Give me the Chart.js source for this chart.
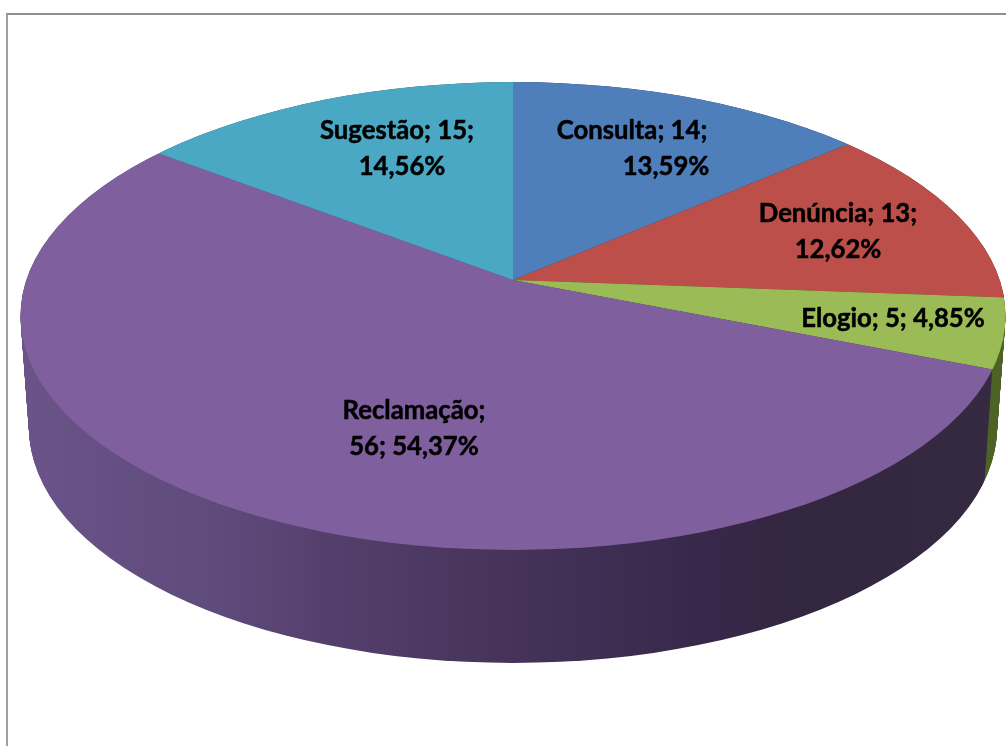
<!DOCTYPE html>
<html>
<head>
<meta charset="utf-8">
<title>Manifestações</title>
<script src="https://cdn.jsdelivr.net/npm/chart.js@4"></script>
<style>
    html, body { margin: 0; padding: 0; background: #fff; overflow: hidden; }
    #frame { position: absolute; left: 6px; top: 13px; right: 0; bottom: 0; border-top: 2px solid #8f8f8f; border-left: 2px solid #a0a0a0; }
    #box { position: absolute; left: 0; top: 0; width: 1006px; height: 746px; }
</style>
</head>
<body>
<div id="frame"></div>
<div id="box"><canvas id="pieChart" width="1006" height="746"></canvas></div>
<script>
// Data
const categories = ['Consulta', 'Denúncia', 'Elogio', 'Reclamação', 'Sugestão'];
const values = [14, 13, 5, 56, 15];
const percents = ['13,59%', '12,62%', '4,85%', '54,37%', '14,56%'];
const topColors = ['#4f7fbb', '#bd4f4b', '#9abb55', '#7f5f9e', '#4aa8c4'];

// Layout of the fake 3D pie (page pixels)
const apex = { x: 513, y: 280 };
const topEllipse = { x: 513, y: 316, rx: 492.5, ry: 234 };
const baseEllipse = { x: 513, y: 428, rx: 484, ry: 235 };
const squash = 0.465;
const reach = 640;

// Side wall shading, left to right
const wallStops = [
    [
        [0, '#2b3f5e'], [1, '#1f2f48']
    ],
    [
        [0, '#5e2725'], [1, '#4a1f1d']
    ],
    [
        [0, '#56702c'], [1, '#4d6326']
    ],
    [
        [0, '#6a5388'], [0.2, '#5e4a7b'], [0.3, '#55406d'], [0.5, '#45335a'], [0.7, '#37284a'], [0.8, '#33263f'], [1, '#352a42']
    ],
    [
        [0, '#2b6172'], [1, '#245262']
    ]
];

// Where each label goes: text lines, x of each line, y of each line
const labelLines = [
    { lines: (c, v, p) => [c + '; ' + v + ';', p], x: [632, 666], y: [131, 167] },
    { lines: (c, v, p) => [c + '; ' + v + ';', p], x: [838, 838], y: [214, 250] },
    { lines: (c, v, p) => [c + '; ' + v + '; ' + p], x: [893], y: [319] },
    { lines: (c, v, p) => [c + ';', v + '; ' + p], x: [414, 414], y: [411, 447] },
    { lines: (c, v, p) => [c + '; ' + v + ';', p], x: [397, 402], y: [131, 167] }
];

function ellipsePath(ctx, e) {
    ctx.beginPath();
    ctx.ellipse(e.x, e.y, e.rx, e.ry, 0, 0, Math.PI * 2);
}

function wedgeTransform(ctx, arc, shiftY) {
    const s = reach / arc.outerRadius;
    ctx.translate(apex.x, apex.y + shiftY);
    ctx.scale(s, s * squash);
    ctx.translate(-arc.x, -arc.y);
}

// Pie is drawn by Chart.js, then stretched flat and clipped to the top ellipse
const pie3d = {
    id: 'pie3d',
    beforeDatasetsDraw(chart) {
        const ctx = chart.ctx;
        const arcs = chart.getDatasetMeta(0).data;
        const fills = wallStops.map(stops => {
            const g = ctx.createLinearGradient(baseEllipse.x - baseEllipse.rx, 0, baseEllipse.x + baseEllipse.rx, 0);
            stops.forEach(st => g.addColorStop(st[0], st[1]));
            return g;
        });
        const depth = baseEllipse.y - topEllipse.y;

        // walls, back to front
        for (let d = depth; d >= 0; d--) {
            const t = d / depth;
            ctx.save();
            ellipsePath(ctx, {
                x: topEllipse.x + (baseEllipse.x - topEllipse.x) * t,
                y: topEllipse.y + d,
                rx: topEllipse.rx + (baseEllipse.rx - topEllipse.rx) * t,
                ry: topEllipse.ry + (baseEllipse.ry - topEllipse.ry) * t
            });
            ctx.clip();
            arcs.forEach((arc, i) => {
                ctx.save();
                wedgeTransform(ctx, arc, d);
                ctx.beginPath();
                ctx.moveTo(arc.x, arc.y);
                ctx.arc(arc.x, arc.y, arc.outerRadius, arc.startAngle, arc.endAngle);
                ctx.closePath();
                ctx.restore();
                ctx.fillStyle = fills[i];
                ctx.fill();
            });
            ctx.restore();
        }

        ctx.save();
        ellipsePath(ctx, topEllipse);
        ctx.clip();
        wedgeTransform(ctx, arcs[0], 0);
    },
    afterDatasetsDraw(chart) {
        const ctx = chart.ctx;
        ctx.restore();

        ctx.save();
        ctx.font = 'bold 25.7px Lato, Carlito, sans-serif';
        ctx.fillStyle = '#000';
        ctx.strokeStyle = '#000';
        ctx.lineWidth = 0.5;
        ctx.lineJoin = 'round';
        ctx.textAlign = 'center';
        ctx.textBaseline = 'middle';
        labelLines.forEach((lab, i) => {
            lab.lines(categories[i], values[i], percents[i]).forEach((txt, n) => {
                ctx.fillText(txt, lab.x[n], lab.y[n]);
                ctx.strokeText(txt, lab.x[n], lab.y[n]);
            });
        });
        ctx.restore();
    }
};

const ctx = document.getElementById('pieChart').getContext('2d');
new Chart(ctx, {
    type: 'pie',
    data: {
        labels: categories,
        datasets: [{
            data: values,
            backgroundColor: topColors,
            borderWidth: 0,
            clip: false
        }]
    },
    options: {
        responsive: false,
        devicePixelRatio: 1,
        animation: false,
        layout: { padding: 0 },
        plugins: {
            legend: { display: false },
            title: { display: false },
            tooltip: { enabled: false }
        }
    },
    plugins: [pie3d]
});
</script>
</body>
</html>
